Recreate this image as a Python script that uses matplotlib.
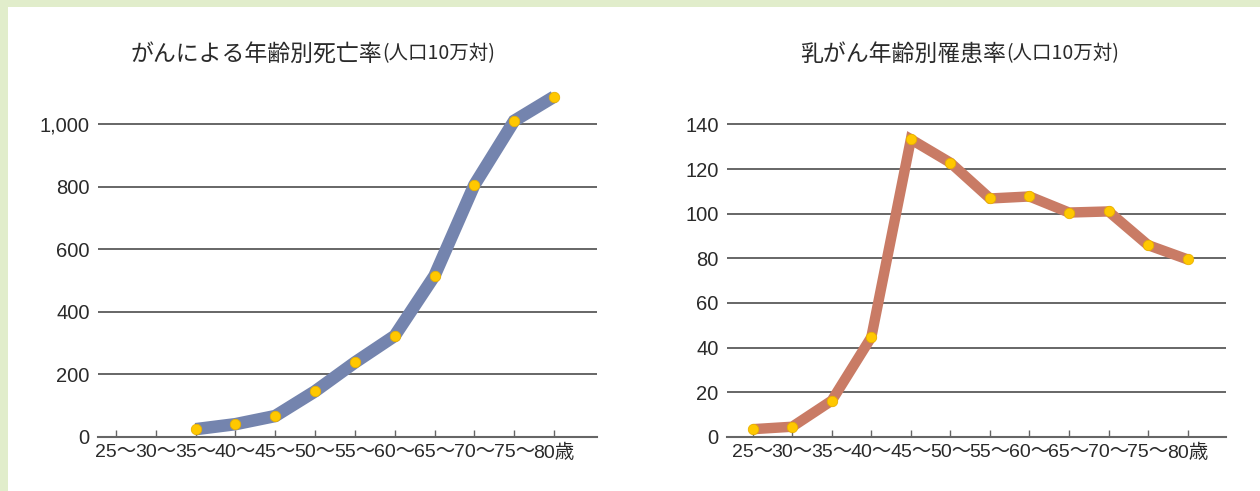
import matplotlib
matplotlib.use("Agg")
import matplotlib.pyplot as plt
from matplotlib.patches import Rectangle

plt.rcParams["font.family"] = ["Liberation Sans", "Noto Sans CJK JP", "DejaVu Sans"]
CJK = ["Noto Sans CJK JP", "DejaVu Sans"]

# data
age_labels = ["25〜", "30〜", "35〜", "40〜", "45〜", "50〜",
              "55〜", "60〜", "65〜", "70〜", "75〜", "80歳"]
death_ages = [2, 3, 4, 5, 6, 7, 8, 9, 10, 11]
death_rate = [25, 41, 67, 146, 238, 323, 515, 805, 1010, 1087]
incidence = [3.5, 4.6, 16.3, 44.7, 133.3, 122.8, 106.8, 107.7, 100.5, 101.0, 85.9, 79.5]
left_title = "がんによる年齢別死亡率"
right_title = "乳がん年齢別罹患率"
unit = "(人口10万対)"

W, H = 1260, 491
fig = plt.figure(figsize=(W / 100, H / 100), dpi=100)
fig.patch.set_facecolor("#e1edcb")
fig.patches.append(Rectangle((8 / W, 0), 1, (H - 7) / H, transform=fig.transFigure,
                             facecolor="white", edgecolor="none", zorder=-5))

TXT = "#2a2a2a"
GRID = "#666666"


def px_axes(x0, x1, y_bottom, y_top):
    return fig.add_axes([x0 / W, (H - y_bottom) / H, (x1 - x0) / W, (y_bottom - y_top) / H])


def style(ax, yticks, ylabels, xlim):
    ax.set_facecolor("none")
    for s in ["left", "right", "top"]:
        ax.spines[s].set_visible(False)
    ax.spines["bottom"].set_color(GRID)
    ax.spines["bottom"].set_linewidth(1.5)
    ax.set_yticks(yticks)
    ax.set_yticklabels(ylabels)
    ax.tick_params(axis="y", length=0, pad=6, labelsize=14.5, labelcolor=TXT)
    ax.set_xticks(range(len(age_labels)))
    ax.set_xticklabels(age_labels)
    ax.tick_params(axis="x", direction="in", length=5, width=1, color=GRID,
                   pad=5, labelsize=14, labelcolor=TXT)
    ax.set_xlim(*xlim)
    for v in yticks[1:]:
        ax.axhline(v, color=GRID, lw=1.4, zorder=1)


# left chart
ax1 = px_axes(98, 597, 437, 77)
ax1.set_ylim(0, 1150)
style(ax1, [0, 200, 400, 600, 800, 1000], ["0", "200", "400", "600", "800", "1,000"],
      (-0.45, 12.08))
ax1.plot(death_ages, death_rate, color="#7484ae", lw=9, solid_capstyle="butt",
         solid_joinstyle="miter", zorder=3, clip_on=False)
ax1.plot(death_ages, death_rate, ls="none", marker="o", ms=7.5, mfc="#ffc800",
         mec="#e8b000", mew=0.6, zorder=4, clip_on=False)

# right chart
ax2 = px_axes(727, 1226, 437, 102)
ax2.set_ylim(0, 150)
style(ax2, list(range(0, 141, 20)), [str(v) for v in range(0, 141, 20)],
      (-0.65, 11.97))
ax2.plot(range(len(incidence)), incidence, color="#c97b65", lw=7.5,
         solid_capstyle="butt", solid_joinstyle="miter", zorder=3, clip_on=False)
ax2.plot(range(len(incidence)), incidence, ls="none", marker="o", ms=7.5,
         mfc="#ffc800", mec="#e8b000", mew=0.6, zorder=4, clip_on=False)

t1 = fig.text(131 / W, (H - 54) / H, left_title, fontsize=16.5, color=TXT,
              va="center", family=CJK)
ax1.annotate(unit, xy=(1, 0.08), xycoords=t1, fontsize=14, color=TXT,
             va="bottom", ha="left", annotation_clip=False, family=CJK)
t2 = fig.text(800 / W, (H - 54) / H, right_title, fontsize=16.5, color=TXT,
              va="center", family=CJK)
ax2.annotate(unit, xy=(1, 0.08), xycoords=t2, fontsize=14, color=TXT,
             va="bottom", ha="left", annotation_clip=False, family=CJK)

fig.savefig("out.png", dpi=100, facecolor=fig.get_facecolor())
